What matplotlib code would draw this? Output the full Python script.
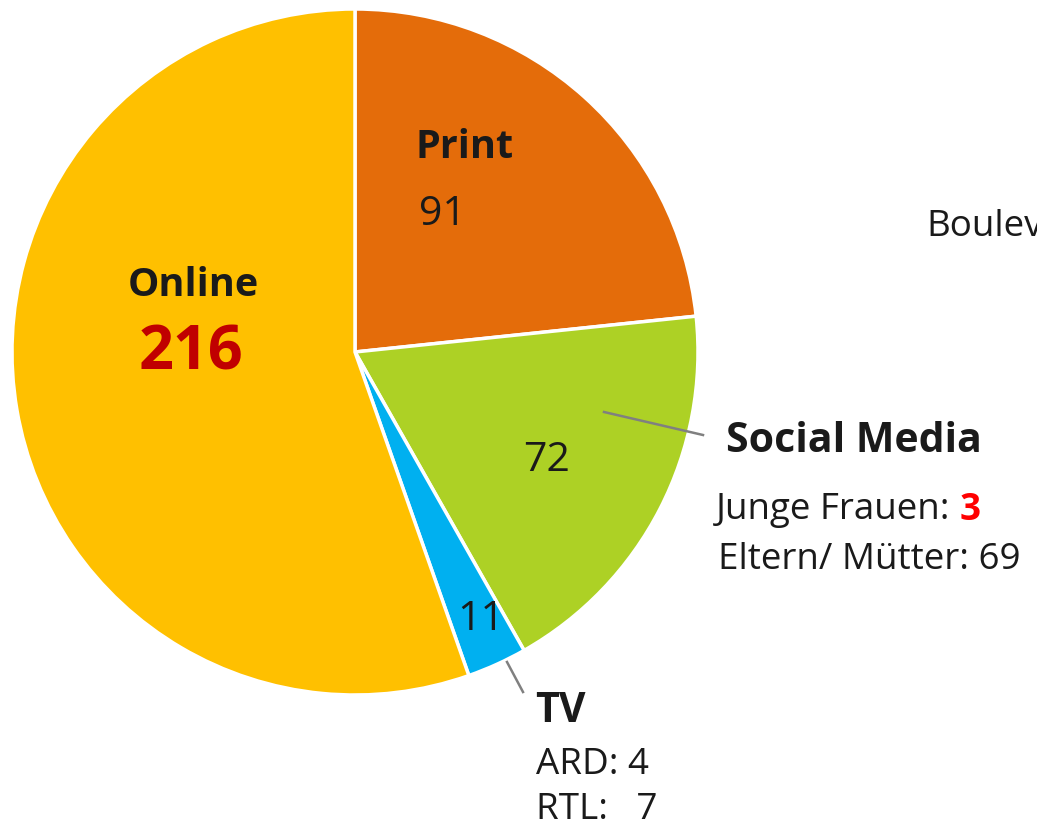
import matplotlib
matplotlib.use("Agg")
import matplotlib.pyplot as plt

categories = ["Print", "Social Media", "TV", "Online"]
values = [91, 72, 11, 216]
colors = ["#E46C0A", "#ADD125", "#00B0F0", "#FFC000"]
tv_sub = ["ARD: 4", "RTL:   7"]
sm_sub_labels = ["Junge Frauen: ", "Eltern/ Mütter: 69"]
sm_young = "3"
side_text = "Boulev"

W, H = 1037, 830
plt.rcParams['font.family'] = ['Open Sans', 'DejaVu Sans']
fig = plt.figure(figsize=(W / 100, H / 100), dpi=100)
ax = fig.add_axes([0, 0, 1, 1])

def Y(py):
    return H - py

cx, cy, r = 355, 352, 343
wedges, _ = ax.pie(values, colors=colors, startangle=90, counterclock=False,
                   center=(cx, Y(cy)), radius=r, frame=True,
                   wedgeprops=dict(edgecolor="white", linewidth=2.5))
ax.set_xlim(0, W)
ax.set_ylim(0, H)
ax.set_aspect('equal')
ax.axis('off')

txt = "#1a1a1a"
BIG = 29.5
SMALL = 26.5
NUM = 29.5
# in-slice labels
ax.text(465, Y(147), "Print", ha="center", va="center", fontsize=28.5, fontweight="bold", color=txt)
ax.text(442, Y(215), str(values[0]), ha="center", va="center", fontsize=NUM, color=txt)
ax.text(193, Y(286), "Online", ha="center", va="center", fontsize=28.5, fontweight="bold", color=txt)
ax.text(191, Y(354), str(values[3]), ha="center", va="center", fontsize=44, fontweight="bold", color="#C00000")
ax.text(547, Y(461), str(values[1]), ha="center", va="center", fontsize=NUM, color=txt)
ax.text(481, Y(620), str(values[2]), ha="center", va="center", fontsize=NUM, color=txt)

# leader lines
ax.plot([604, 703], [Y(412), Y(435)], color="#808080", lw=1.8)
ax.plot([507, 523], [Y(662), Y(692)], color="#808080", lw=1.8)

# Social media annotation
ax.text(726, Y(442), "Social Media", ha="left", va="center", fontsize=BIG, fontweight="bold", color=txt)
t1 = ax.text(716, Y(510), sm_sub_labels[0], ha="left", va="center", fontsize=SMALL, color=txt)
fig.canvas.draw()
bb = t1.get_window_extent()
ax.text(bb.x1, Y(510), sm_young, ha="left", va="center", fontsize=SMALL, fontweight="bold", color="#FF0000")
ax.text(718, Y(560), sm_sub_labels[1], ha="left", va="center", fontsize=SMALL, color=txt)

# TV annotation
ax.text(535, Y(712), "TV", ha="left", va="center", fontsize=BIG, fontweight="bold", color=txt)
ax.text(536, Y(765), tv_sub[0], ha="left", va="center", fontsize=SMALL, color=txt)
ax.text(536, Y(810), tv_sub[1], ha="left", va="center", fontsize=SMALL, color=txt)

# partially visible text at right
ax.text(926, Y(227), side_text, ha="left", va="center", fontsize=SMALL, color=txt)

fig.savefig("out.png", dpi=100, facecolor="white")
